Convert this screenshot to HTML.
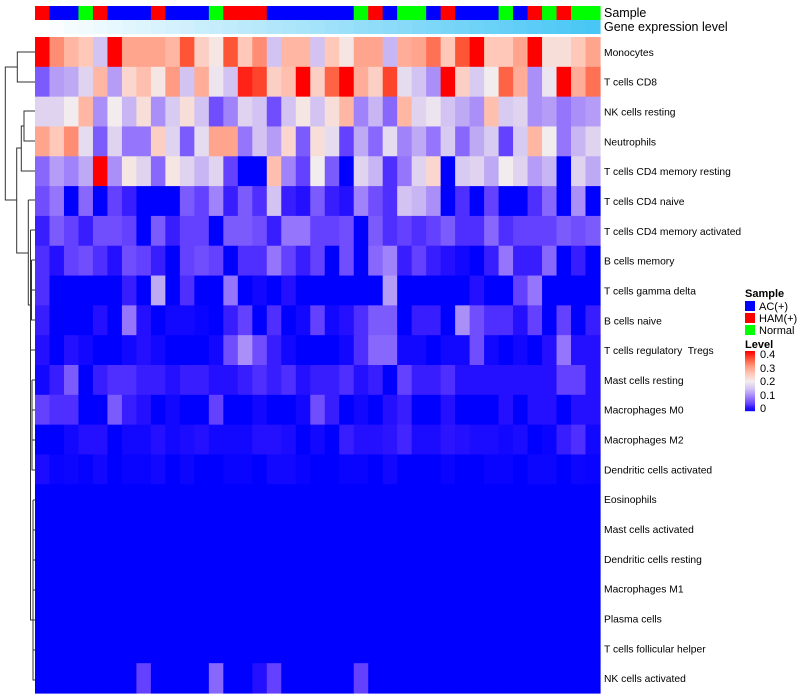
<!DOCTYPE html>
<html><head><meta charset="utf-8">
<style>
html,body{margin:0;padding:0;background:#fff;}
svg{display:block;font-family:"Liberation Sans",sans-serif;}
#labels text{white-space:pre;}
</style></head>
<body>
<svg id="chart" width="800" height="700" xmlns="http://www.w3.org/2000/svg">
  <g id="dendro" stroke="#333" stroke-width="1" fill="none">
    <path d="M35,52 H17.3 V82 H35"/>
    <path d="M17.3,67 H5.3 V200 H16.7"/>
    <path d="M35,111 H24 V141 H35"/>
    <path d="M24,126 H21.3 V171 H35"/>
    <path d="M21.3,148 H16.7 V253 H28.3"/>
    <path d="M28.3,200 H35"/>
    <path d="M28.3,200 V305 H30.5"/>
    <path d="M30.5,230 H35 M30.5,230 V380"/>
    <path d="M31.5,260 H35 M31.5,260 V320 H35"/>
    <path d="M31.5,290 H35"/>
    <path d="M30.5,350 H35 M32,380 H35 M32,380 V470 H35"/>
    <path d="M32,410 H35 M32,440 H35"/>
    <path d="M30.5,380 V620 H33"/>
    <path d="M33,500 V680 H35 M33,530 H35 M33,560 H35 M33,590 H35 M33,620 H35 M33,650 H35 M33,500 H35"/>
  </g>
  <g id="cells"></g>
  <g id="annot"></g>
  <g id="labels" font-size="10.3" fill="#000" xml:space="preserve"></g>
  <text x="604" y="17" font-size="12.5">Sample</text>
  <text x="604" y="31" font-size="12.5">Gene expression level</text>
  <g id="legend" font-size="11">
    <text x="745" y="297" font-weight="bold">Sample</text>
    <rect x="745" y="301" width="10" height="10" fill="#0000ff"/>
    <text x="759" y="310">AC(+)</text>
    <rect x="745" y="313" width="10" height="10" fill="#ff0000"/>
    <text x="759" y="322">HAM(+)</text>
    <rect x="745" y="325" width="10" height="10" fill="#00ff00"/>
    <text x="759" y="334">Normal</text>
    <text x="745" y="348" font-weight="bold">Level</text>
    <g id="cbar"></g>
    <text x="760" y="358">0.4</text>
    <text x="760" y="372">0.3</text>
    <text x="760" y="385">0.2</text>
    <text x="760" y="399">0.1</text>
    <text x="760" y="412">0</text>
  </g>
</svg>
<script>
const rowNames = ["Monocytes","T cells CD8","NK cells resting","Neutrophils","T cells CD4 memory resting","T cells CD4 naive","T cells CD4 memory activated","B cells memory","T cells gamma delta","B cells naive","T cells regulatory  Tregs","Mast cells resting","Macrophages M0","Macrophages M2","Dendritic cells activated","Eosinophils","Mast cells activated","Dendritic cells resting","Macrophages M1","Plasma cells","T cells follicular helper","NK cells activated"];
const sampleGroups = ["HAM","AC","AC","Normal","HAM","AC","AC","AC","HAM","AC","AC","AC","Normal","HAM","HAM","HAM","AC","AC","AC","AC","AC","AC","Normal","HAM","AC","Normal","Normal","AC","HAM","AC","AC","AC","Normal","AC","HAM","Normal","HAM","Normal","Normal"];
const r0 = [.40,.31,.27,.25,.15,.40,.29,.29,.29,.27,.35,.24,.21,.35,.25,.31,.15,.27,.27,.15,.25,.21,.29,.29,.14,.28,.29,.33,.25,.35,.40,.25,.25,.29,.40,.22,.22,.25,.29];
const r1 = [.07,.12,.13,.17,.27,.12,.23,.26,.21,.30,.15,.28,.19,.15,.38,.36,.24,.26,.40,.24,.34,.40,.28,.24,.36,.18,.15,.11,.40,.24,.16,.20,.34,.28,.11,.19,.40,.28,.33];
const r2 = [.17,.17,.20,.27,.11,.20,.14,.22,.11,.16,.22,.15,.06,.10,.17,.15,.06,.15,.21,.15,.22,.27,.10,.14,.08,.27,.17,.19,.15,.13,.11,.26,.16,.17,.11,.12,.09,.11,.12];
const r3 = [.29,.25,.31,.18,.07,.17,.09,.09,.24,.17,.07,.18,.29,.29,.09,.15,.12,.23,.07,.22,.18,.05,.13,.08,.18,.10,.13,.09,.16,.08,.13,.16,.05,.16,.27,.20,.09,.14,.17];
const r4 = [.08,.12,.10,.13,.40,.11,.21,.17,.08,.21,.17,.14,.17,.05,0,0,.26,.10,.05,.20,.07,0,.17,.14,.04,.09,.17,.23,0,.16,.17,.13,.20,.17,.12,.14,0,.17,.13];
const r5 = [.06,.09,0,.08,0,.05,.03,0,0,0,.07,.05,.10,.03,.07,.04,.15,.03,.02,.07,.03,.02,.10,.06,.04,.15,.14,.11,0,.04,0,.05,0,0,.04,.08,0,.11,0];
const r6 = [.03,.07,.05,.03,.06,.06,.05,0,.07,.03,.05,.05,0,.07,.07,.06,.03,.09,.09,.05,.05,.06,0,.07,.04,.05,.04,.05,.07,.04,.04,.08,.04,.05,.05,.05,.07,.06,.07];
const r7 = [.04,.02,.05,.06,.04,.02,.06,.05,.03,0,.05,.06,.05,0,.04,.04,.09,.05,.03,.05,0,.06,0,.08,.10,.03,.05,.03,.02,.01,0,.03,.09,.03,.03,.08,0,.03,0];
const r8 = [.04,0,0,0,0,0,.03,0,.13,0,.04,0,0,.09,0,.01,0,.02,0,0,0,0,0,0,.12,0,0,0,0,0,.02,0,0,.05,.09,0,0,0,0];
const r9 = [.03,0,0,0,.02,0,.09,.02,0,.01,.01,.005,0,.03,.05,0,.04,0,.01,.05,.01,.02,.04,.07,.07,0,.03,.03,0,.11,.06,.04,.04,.02,.05,0,.05,0,.03];
const r10 = [.02,0,.02,.01,0,0,.01,.02,.01,0,0,0,.01,.06,.11,.06,.03,.01,0,0,0,.01,.04,.08,.08,.01,.01,0,.01,.01,.06,.01,0,.01,0,.02,.09,.02,.02];
const r11 = [.01,.03,.07,0,.03,.04,.04,.03,.03,.02,.03,.03,.02,.02,.03,.04,.03,.04,.02,.03,.03,.04,.02,.03,0,.05,.03,.03,.04,.02,.02,.02,.02,.02,.02,.02,.05,.05,.02];
const r12 = [.05,.04,.04,0,0,.07,.03,.02,0,.01,0,0,.05,0,0,.01,0,0,.01,.06,.03,0,.01,0,.02,.03,0,0,.02,0,0,0,.02,0,.02,.02,0,.02,.02];
const r13 = [0,0,.01,.02,.02,0,.01,.01,.02,.01,.015,.02,.01,.01,.01,.02,.02,.015,0,.01,0,.03,.02,.02,.025,.035,.015,.015,.025,.02,.015,.015,.01,.015,0,.005,.03,.04,.01];
const r14 = [.015,.005,.007,.003,.01,0,.005,.005,.01,0,.007,0,0,.005,.005,0,.01,.01,.005,0,0,.005,.005,0,.01,0,0,0,.005,0,0,.005,.005,0,.007,.007,0,.007,.005];
const r15 = new Array(39).fill(0);
const r16 = new Array(39).fill(0);
const r17 = new Array(39).fill(0);
const r18 = new Array(39).fill(0);
const r19 = new Array(39).fill(0);
const r20 = new Array(39).fill(0);
const r21 = [0,0,0,0,0,0,0,.05,0,0,0,0,.08,0,0,.02,.05,0,0,0,0,0,.05,0,0,0,0,0,0,0,0,0,0,0,0,0,0,0,0];
const values = [r0,r1,r2,r3,r4,r5,r6,r7,r8,r9,r10,r11,r12,r13,r14,r15,r16,r17,r18,r19,r20,r21];

const X0 = 35, X1 = 600, Y0 = 37, Y1 = 693;
const nCol = sampleGroups.length, nRow = rowNames.length;
const cw = (X1 - X0) / nCol, rh = (Y1 - Y0) / nRow;
const xPos = c => X0 + c * cw;
const yPos = r => Y0 + r * rh;
const stops = [[0,[0,0,255]],[.025,[45,20,255]],[.05,[100,65,255]],[.1,[160,130,250]],[.15,[210,195,242]],[.2,[242,236,238]],[.25,[255,200,185]],[.3,[255,155,130]],[.35,[255,85,55]],[.4,[255,0,0]]];
function color(v){
  v = Math.max(0, Math.min(0.4, v));
  for (let i = 1; i < stops.length; i++){
    if (v <= stops[i][0]){
      const [a, ca] = stops[i-1], [b, cb] = stops[i];
      const t = (v - a) / (b - a);
      const c = ca.map((x, k) => Math.round(x + (cb[k] - x) * t));
      return `rgb(${c[0]},${c[1]},${c[2]})`;
    }
  }
  return "rgb(255,0,0)";
}
const NS = "http://www.w3.org/2000/svg";
const cells = document.getElementById("cells");


values.forEach((row, r) => {
  row.forEach((v, c) => {
    const el = document.createElementNS(NS, "rect");
    el.setAttribute("x", xPos(c).toFixed(2));
    el.setAttribute("y", yPos(r).toFixed(2));
    el.setAttribute("width", (cw + 0.6).toFixed(2));
    el.setAttribute("height", (rh + 0.6).toFixed(2));
    el.setAttribute("fill", color(v));
    
    
    cells.appendChild(el);
  });
});
const gc = {AC:"#0000ff", HAM:"#ff0000", Normal:"#00ff00"};
const annot = document.getElementById("annot");


sampleGroups.forEach((g, c) => {
  const el = document.createElementNS(NS, "rect");
  el.setAttribute("x", xPos(c).toFixed(2)); el.setAttribute("y", 6);
  el.setAttribute("width", (cw + 0.6).toFixed(2)); el.setAttribute("height", 14);
  el.setAttribute("fill", gc[g]);
  
  
  annot.appendChild(el);
  const e2 = document.createElementNS(NS, "rect");
  const t = c / (nCol - 1);
  e2.setAttribute("x", xPos(c).toFixed(2)); e2.setAttribute("y", 20);
  e2.setAttribute("width", (cw + 0.6).toFixed(2)); e2.setAttribute("height", 14);
  e2.setAttribute("fill", `rgb(${Math.round(255-(255-72)*t)},${Math.round(255-(255-198)*t)},${Math.round(255-(255-245)*t)})`);
  
  
  annot.appendChild(e2);
});
const labels = document.getElementById("labels");


rowNames.forEach((n, r) => {
  const el = document.createElementNS(NS, "text");
  el.setAttribute("x", 604);
  el.setAttribute("y", (yPos(r) + rh / 2 + 4).toFixed(1));
  el.textContent = n;
  
  
  labels.appendChild(el);
});
const cbar = document.getElementById("cbar");
for (let i = 0; i < 60; i++){
  const v = 0.4 - i * 0.4 / 60;
  const el = document.createElementNS(NS, "rect");
  el.setAttribute("x", 745); el.setAttribute("y", 351 + i);
  el.setAttribute("width", 10); el.setAttribute("height", 1.2);
  el.setAttribute("fill", color(v));
  
  
  cbar.appendChild(el);
}
</script>
</body></html>
